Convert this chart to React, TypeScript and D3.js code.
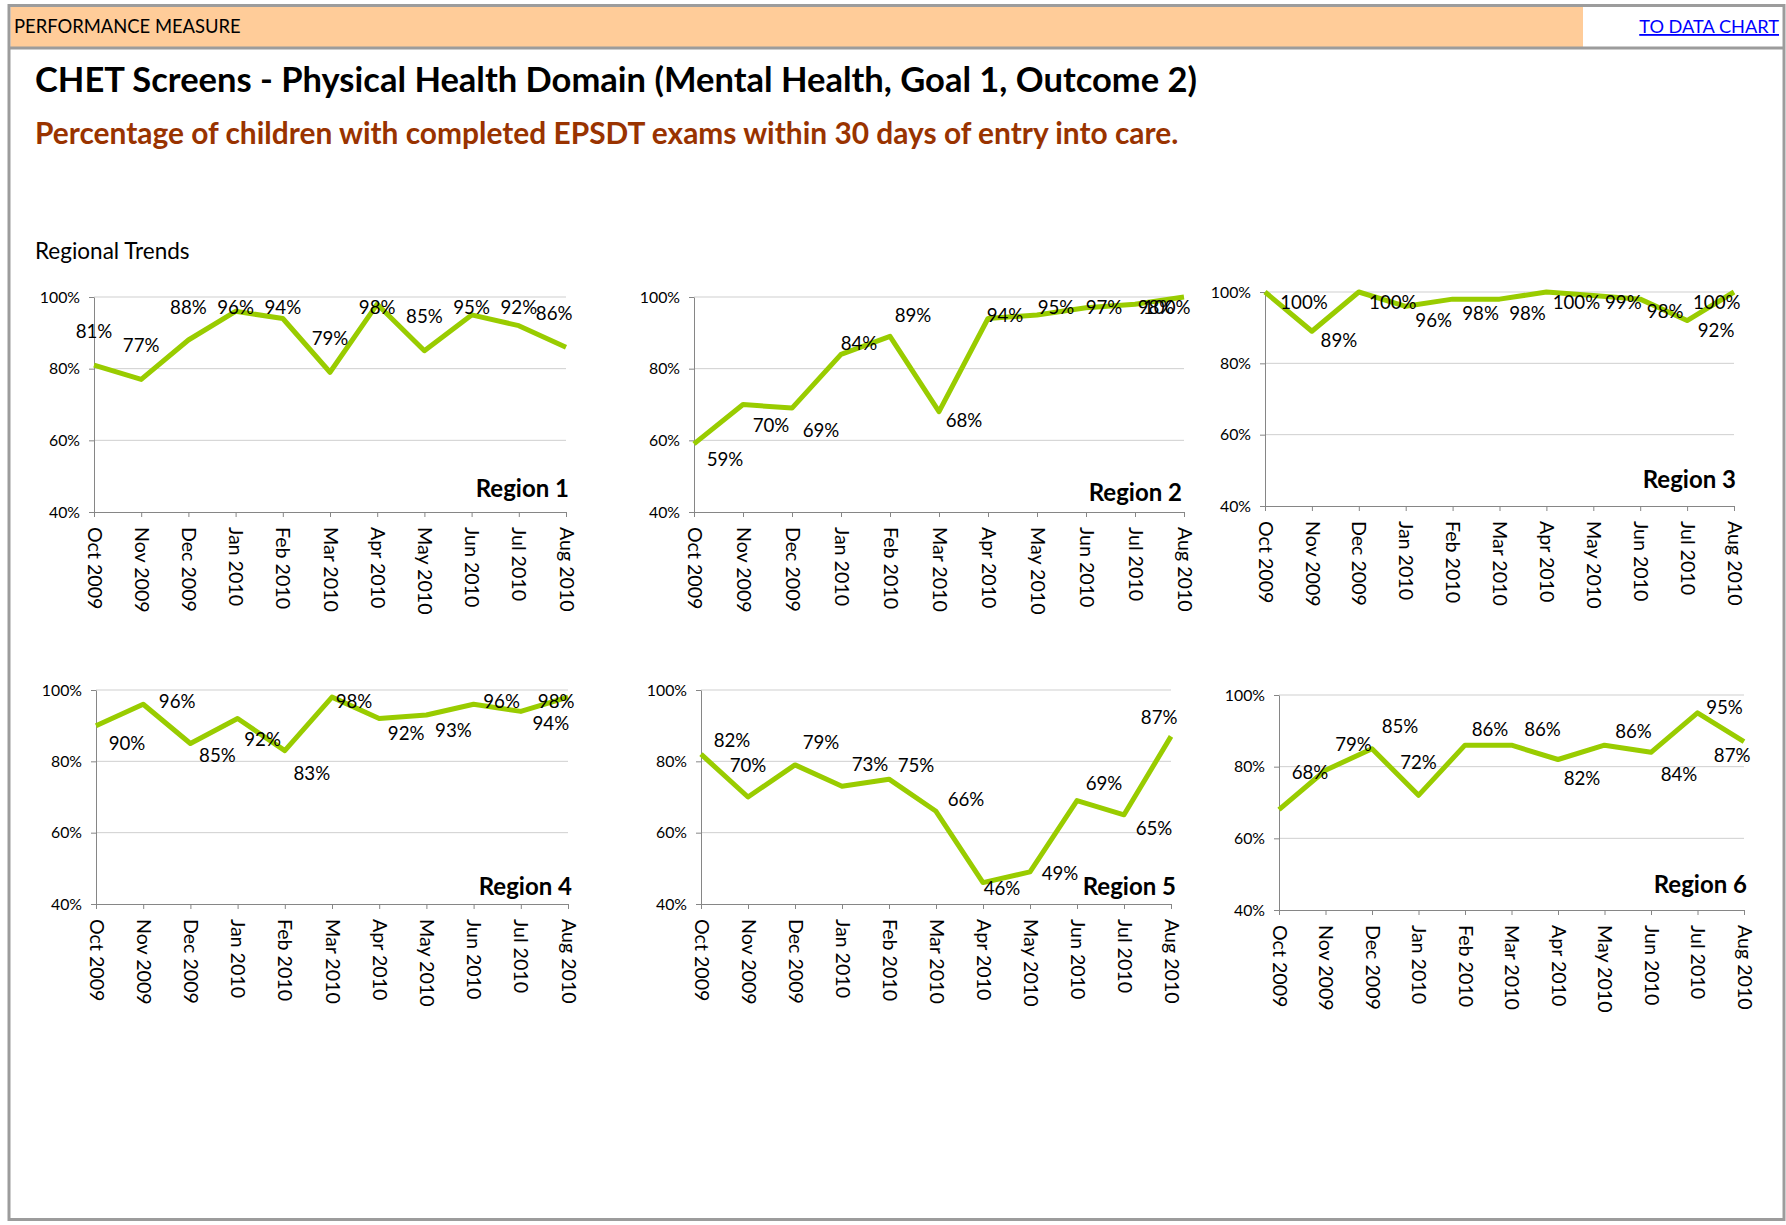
import React, { useEffect, useRef } from 'react';
import * as d3 from 'd3';

// ---- data ----
const months = ['Oct 2009', 'Nov 2009', 'Dec 2009', 'Jan 2010', 'Feb 2010', 'Mar 2010', 'Apr 2010', 'May 2010', 'Jun 2010', 'Jul 2010', 'Aug 2010'];
const yTicks = [40, 60, 80, 100];
const regionNames = ['Region 1', 'Region 2', 'Region 3', 'Region 4', 'Region 5', 'Region 6'];

const region1 = [81, 77, 88, 96, 94, 79, 98, 85, 95, 92, 86];
const region2 = [59, 70, 69, 84, 89, 68, 94, 95, 97, 98, 100];
const region3 = [100, 89, 100, 96, 98, 98, 100, 99, 98, 92, 100];
const region4 = [90, 96, 85, 92, 83, 98, 92, 93, 96, 94, 98];
const region5 = [82, 70, 79, 73, 75, 66, 46, 49, 69, 65, 87];
const region6 = [68, 79, 85, 72, 86, 86, 82, 86, 84, 95, 87];

// data label nudges (dx, dy from the point), as they were dragged in the workbook
const nudge1 = months.map(() => [0, -34]);
const nudge2 = [[31, 16], [28, 21], [29, 22], [18, -11], [23, -21], [25, 9], [17, -3], [19, -7], [18, 0], [21, 0], [20, 0]];
const nudge3 = [[39, 10], [27, 9], [34, 10], [28, 14], [28, 14], [28, 14], [30, 10], [30, 6], [25, 12], [29, 10], [25, 10]];
const nudge4 = [[31, 18], [34, -3], [27, 12], [25, 21], [27, 23], [22, 4], [27, 15], [27, 15], [28, -3], [30, 12], [25, 4]];
const nudge5 = [[31, -14], [0, -32], [26, -22], [28, -22], [27, -14], [30, -12], [19, 6], [30, 2], [27, -17], [30, 14], [20, -19]];
const nudge6 = [[31, -37], [28, -26], [28, -22], [0, -33], [25, -16], [31, -16], [24, 19], [29, -14], [28, 22], [27, -5], [20, 14]];

// plot areas of the six small charts
const panels = [
  { values: region1, nudges: nudge1, left: 94, top: 297, right: 566, bottom: 512, tagDx: 3, tagLift: 15 },
  { values: region2, nudges: nudge2, left: 694, top: 297, right: 1184, bottom: 512, tagDx: -2, tagLift: 11 },
  { values: region3, nudges: nudge3, left: 1265, top: 292, right: 1734, bottom: 506, tagDx: 2, tagLift: 18 },
  { values: region4, nudges: nudge4, left: 96, top: 690, right: 568, bottom: 904, tagDx: 4, tagLift: 9 },
  { values: region5, nudges: nudge5, left: 701, top: 690, right: 1171, bottom: 904, tagDx: 5, tagLift: 9 },
  { values: region6, nudges: nudge6, left: 1279, top: 695, right: 1744, bottom: 910, tagDx: 3, tagLift: 17 },
];

const W = 1786;
const H = 1225;
const FONT = "Lato, 'Open Sans', sans-serif";
const LINE_GREEN = '#99cc00';
const AXIS_GREY = '#868686';
const GRID_GREY = '#cfcfcf';

export default function App() {
  const svgRef = useRef<SVGSVGElement>(null);

  useEffect(() => {
    if (!svgRef.current) return;
    const svg = d3.select(svgRef.current);
    svg.selectAll('*').remove();

    // sheet frame + header band
    svg.append('rect').attr('x', 0).attr('y', 0).attr('width', W).attr('height', H).attr('fill', '#fff');
    svg.append('rect').attr('x', 10.5).attr('y', 7).attr('width', 1572.5).attr('height', 40).attr('fill', '#ffcc99');
    svg.append('rect')
      .attr('x', 9).attr('y', 5.5).attr('width', 1775).attr('height', 1214)
      .attr('fill', 'none').attr('stroke', '#9c9c9c').attr('stroke-width', 3);
    svg.append('line').attr('x1', 9).attr('x2', 1784).attr('y1', 48).attr('y2', 48)
      .attr('stroke', '#9c9c9c').attr('stroke-width', 3);

    svg.append('text').attr('x', 14).attr('y', 33).attr('font-size', 18.4).text('PERFORMANCE MEASURE');
    svg.append('text').attr('x', 1779).attr('y', 33).attr('font-size', 18.2)
      .attr('text-anchor', 'end').attr('fill', '#0000ff').style('text-decoration', 'underline')
      .text('TO DATA CHART');

    svg.append('text').attr('x', 35).attr('y', 92).attr('font-size', 34.5).attr('font-weight', 700)
      .text('CHET Screens - Physical Health Domain (Mental Health, Goal 1, Outcome 2)');
    svg.append('text').attr('x', 35).attr('y', 144).attr('font-size', 29.9).attr('font-weight', 700)
      .attr('fill', '#993300')
      .text('Percentage of children with completed EPSDT exams within 30 days of entry into care.');
    svg.append('text').attr('x', 35).attr('y', 259).attr('font-size', 22.5).text('Regional Trends');

    panels.forEach((p, pi) => {
      const x = d3.scalePoint<string>().domain(months).range([p.left, p.right]);
      const y = d3.scaleLinear().domain([40, 100]).range([p.bottom, p.top]);
      const g = svg.append('g');

      // gridlines
      g.append('g')
        .selectAll('line')
        .data(yTicks.filter((t) => t > 40))
        .join('line')
        .attr('x1', p.left).attr('x2', p.right)
        .attr('y1', (d) => y(d)).attr('y2', (d) => y(d))
        .attr('stroke', GRID_GREY).attr('stroke-width', 1);

      // y axis
      const yAxis = g.append('g')
        .attr('transform', `translate(${p.left},0)`)
        .call(d3.axisLeft(y).tickValues(yTicks).tickSize(5).tickSizeOuter(0).tickPadding(9).tickFormat((d) => `${d}%`));
      yAxis.select('.domain').attr('stroke', AXIS_GREY);
      yAxis.selectAll('.tick line').attr('stroke', AXIS_GREY);
      yAxis.selectAll('text').attr('font-size', 15.8).attr('font-family', FONT).attr('fill', '#000');

      // x axis, labels turned to read downwards
      const xAxis = g.append('g')
        .attr('transform', `translate(0,${p.bottom})`)
        .call(d3.axisBottom(x).tickSize(5).tickSizeOuter(0));
      xAxis.select('.domain').attr('stroke', AXIS_GREY);
      xAxis.selectAll('.tick line').attr('stroke', AXIS_GREY);
      xAxis.selectAll('text')
        .attr('font-size', 19.6).attr('font-family', FONT).attr('fill', '#000')
        .attr('text-anchor', 'start')
        .attr('x', 15).attr('y', 0).attr('dy', '0.35em')
        .attr('transform', 'rotate(90)');

      // series line
      const line = d3.line<number>()
        .x((_, i) => x(months[i]) as number)
        .y((d) => y(d));
      g.append('path')
        .datum(p.values)
        .attr('d', line)
        .attr('fill', 'none')
        .attr('stroke', LINE_GREEN)
        .attr('stroke-width', 5)
        .attr('stroke-linejoin', 'round');

      // data labels, kept inside the plot/chart area like Excel does
      g.append('g')
        .selectAll('text')
        .data(p.values)
        .join('text')
        .attr('font-size', 18.7)
        .attr('text-anchor', 'middle')
        .attr('dy', '0.35em')
        .text((d) => `${d}%`)
        .each(function (d, i) {
          const el = this as SVGTextElement;
          const w = el.getComputedTextLength();
          let cx = (x(months[i]) as number) + p.nudges[i][0];
          let cy = y(d) + p.nudges[i][1];
          cx = Math.min(cx, p.right + 6.5 - w / 2);
          cy = Math.max(cy, p.top + 10.3);
          d3.select(el).attr('x', cx).attr('y', cy);
        });

      // region tag
      g.append('text')
        .attr('x', p.right + p.tagDx)
        .attr('y', p.bottom - p.tagLift)
        .attr('text-anchor', 'end')
        .attr('font-size', 24)
        .attr('font-weight', 700)
        .text(regionNames[pi]);
    });
  }, []);

  return (
    <svg
      ref={svgRef}
      width={W}
      height={H}
      style={{ position: 'absolute', left: 0, top: 0, fontFamily: FONT }}
    />
  );
}
